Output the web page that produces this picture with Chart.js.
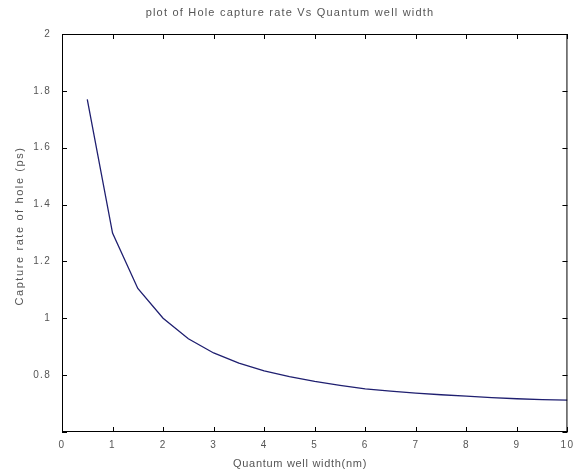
<!DOCTYPE html>
<html>
<head>
<meta charset="utf-8">
<script src="https://cdn.jsdelivr.net/npm/chart.js@4/dist/chart.umd.min.js"></script>
<style>
    html, body { margin: 0; padding: 0; background: #fff; }
    #wrap { width: 580px; height: 474px; }
</style>
</head>
<body>
<div id="wrap"><canvas id="holeChart"></canvas></div>
<script>
/*data*/
let wellWidth = [0.5, 1, 1.5, 2, 2.5, 3, 3.5, 4, 4.5, 5, 5.5, 6, 6.5, 7, 7.5, 8, 8.5, 9, 9.5, 10];
let captureRate = [1.77, 1.30, 1.105, 1.00, 0.928, 0.878, 0.842, 0.815, 0.795, 0.778, 0.764, 0.752, 0.744, 0.737, 0.731, 0.726, 0.721, 0.717, 0.714, 0.712];
let xTicks = [0, 1, 2, 3, 4, 5, 6, 7, 8, 9, 10];
let yTicks = [0.6, 0.8, 1, 1.2, 1.4, 1.6, 1.8, 2];
/**/

let textColor = '#555';
let tickFont = { family: 'Liberation Sans', size: 10 };

// MATLAB style: spaced-out text, box with inward ticks, titles
let boxPlugin = {
    id: 'box',
    beforeDraw(chart) {
        chart.ctx.letterSpacing = '1.3px';
    },
    afterDraw(chart) {
        let ctx = chart.ctx;
        let area = chart.chartArea;
        let xs = chart.scales.x;
        let ys = chart.scales.y;
        ctx.save();
        ctx.strokeStyle = '#000';
        ctx.lineWidth = 1;
        ctx.strokeRect(area.left + 0.5, area.top + 0.5, area.right - area.left - 1, area.bottom - area.top - 1);
        ctx.beginPath();
        xTicks.forEach(v => {
            let px = Math.round(xs.getPixelForValue(v)) + 0.5;
            ctx.moveTo(px, area.bottom);
            ctx.lineTo(px, area.bottom - 5);
            ctx.moveTo(px, area.top);
            ctx.lineTo(px, area.top + 5);
        });
        yTicks.forEach(v => {
            let py = Math.round(ys.getPixelForValue(v)) + 0.5;
            ctx.moveTo(area.left, py);
            ctx.lineTo(area.left + 5, py);
            ctx.moveTo(area.right, py);
            ctx.lineTo(area.right - 5, py);
        });
        ctx.stroke();

        ctx.fillStyle = textColor;
        ctx.font = '11px "Liberation Sans"';
        ctx.textAlign = 'center';
        ctx.textBaseline = 'middle';
        ctx.letterSpacing = '1.2px';
        ctx.fillText('plot of Hole capture rate Vs Quantum well width', chart.width / 2, 13);
        ctx.letterSpacing = '0.7px';
        ctx.fillText('Quantum well width(nm)', 300, 464);
        ctx.letterSpacing = '1.6px';
        ctx.translate(20, 226);
        ctx.rotate(-Math.PI / 2);
        ctx.fillText('Capture rate of hole (ps)', 0, 0);
        ctx.restore();
    }
};

window.onload = function() {
    let holeChart = document.getElementById('holeChart');
    new Chart(holeChart, {
        type: 'line',
        data: {
            datasets: [{
                data: wellWidth.map((w, i) => ({ x: w, y: captureRate[i] })),
                borderColor: '#1f1f70',
                borderWidth: 1.3,
                pointRadius: 0,
                tension: 0,
                fill: false
            }]
        },
        options: {
            responsive: true,
            maintainAspectRatio: false,
            animation: false,
            layout: { padding: { top: 34, right: 9, left: 0, bottom: 0 } },
            plugins: {
                legend: { display: false },
                tooltip: { enabled: false }
            },
            scales: {
                x: {
                    type: 'linear',
                    min: 0,
                    max: 10,
                    afterFit: scale => { scale.height = 42; },
                    afterBuildTicks: scale => { scale.ticks = xTicks.map(v => ({ value: v })); },
                    grid: { display: false, drawTicks: false },
                    border: { display: false },
                    ticks: { color: textColor, font: tickFont, padding: 7, maxRotation: 0 }
                },
                y: {
                    type: 'linear',
                    min: 0.6,
                    max: 2,
                    afterFit: scale => { scale.width = 62; },
                    afterBuildTicks: scale => { scale.ticks = yTicks.map(v => ({ value: v })); },
                    grid: { display: false, drawTicks: false },
                    border: { display: false },
                    ticks: {
                        color: textColor,
                        font: tickFont,
                        padding: 11,
                        callback: v => (v === 0.6 ? '' : String(Math.round(v * 10) / 10))
                    }
                }
            }
        },
        plugins: [boxPlugin]
    });
};
</script>
</body>
</html>
